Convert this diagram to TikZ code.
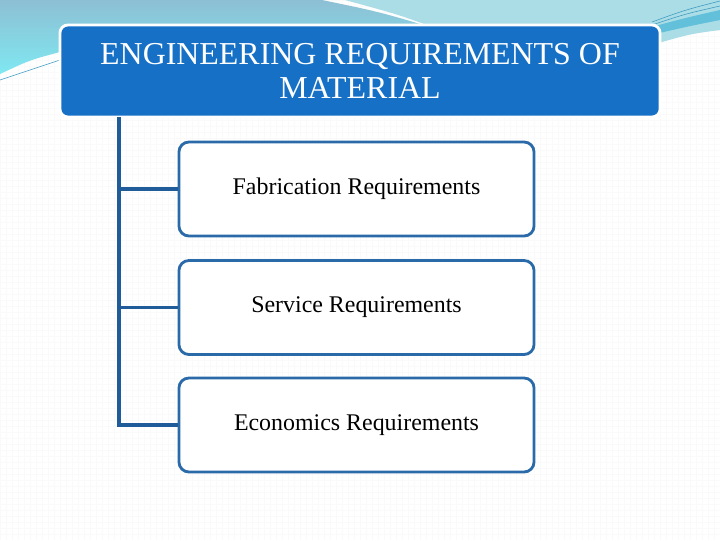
\documentclass[tikz,border=0pt]{standalone}
\usepackage{fontspec}
\setmainfont{Liberation Serif}
\definecolor{titleblue}{HTML}{1670C6}
\definecolor{reqline}{HTML}{2A6AA8}
\definecolor{linkblue}{HTML}{1F5C99}
\definecolor{swishtop}{HTML}{8DBFD4}
\definecolor{swishcyan}{HTML}{7FE8F1}
\definecolor{swishlight}{HTML}{ABDDE7}
\definecolor{swishmid}{HTML}{62C0DA}
\definecolor{swishline}{HTML}{3A9AC0}
\tikzset{
  titlebox/.style={draw=white, line width=2pt, fill=titleblue, rounded corners=0.2cm,
    minimum width=15cm, minimum height=2.3cm, align=center, text=white,
    font=\fontsize{22.7}{24}\selectfont},
  reqbox/.style={draw=reqline, line width=2pt, fill=white, rounded corners=0.25cm,
    minimum width=8.875cm, minimum height=2.35cm, font=\fontsize{17}{19}\selectfont},
  link/.style={draw=linkblue, line width=2.2pt}
}
\begin{document}
\begin{tikzpicture}[x=0.025cm,y=-0.025cm]
    \useasboundingbox (0,0) rectangle (720,540);
    \fill[white] (0,0) rectangle (720,540);
    \draw[black!2, line width=0.3pt, step=0.15cm] (0,0) grid (720,540);

    % top decoration
    \shade[top color=swishtop, bottom color=swishcyan] (0,0) -- (322,0) .. controls (380,12) .. (440,30) -- (60,52) .. controls (30,60) .. (0,74) -- cycle;
    \fill[swishlight] (345,0) -- (720,0) -- (720,30) .. controls (690,34) .. (655,44) -- (440,30) .. controls (400,15) .. (345,0) -- cycle;
    \fill[swishmid] (655,26) .. controls (685,18) .. (720,10) -- (720,20) .. controls (690,26) .. (655,34) -- cycle;
    \draw[swishline, line width=0.4pt] (0,80) -- (60,60);
    \draw[swishline, line width=0.4pt] (652,22) .. controls (685,10) .. (720,1);
    \draw[swishline, line width=0.4pt] (652,25) .. controls (685,14) .. (720,6);

    \node[titlebox] (title) at (360,71) {ENGINEERING REQUIREMENTS OF\\MATERIAL};

    \node[reqbox] (fab) at (356.5,189) {Fabrication Requirements};
    \node[reqbox] (serv) at (356.5,307.5) {Service Requirements};
    \node[reqbox] (econ) at (356.5,425) {Economics Requirements};

    \coordinate (spine) at (119,117);
    \draw[link] (spine) |- (econ.west);
    \draw[link] (spine |- fab.west) -- (fab.west);
    \draw[link] (spine |- serv.west) -- (serv.west);
\end{tikzpicture}
\end{document}
